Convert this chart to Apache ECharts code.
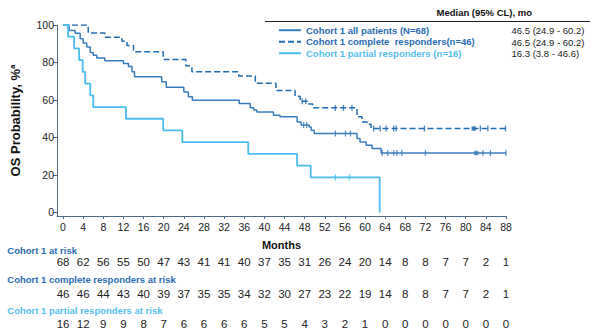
<!DOCTYPE html>
<html>
<head>
<meta charset="utf-8">
<script src="https://cdn.jsdelivr.net/npm/echarts@6/dist/echarts.min.js"></script>
<style>
  html, body { margin: 0; padding: 0; background: #fff; }
  #chart { width: 596px; height: 336px; }
</style>
</head>
<body>
<div id="chart"></div>
<script>
// Axis ticks
const monthTicks = [0, 4, 8, 12, 16, 20, 24, 28, 32, 36, 40, 44, 48, 52, 56, 60, 64, 68, 72, 76, 80, 84, 88];
const probTicks = [0, 20, 40, 60, 80, 100];
const followUpEnd = 88;

// Cohort 1 all patients (N=68): event times (months) and survival (%) after each step
const allTimes = [0, 1.2, 2.4, 3.4, 4.0, 4.7, 5.4, 6.0, 6.7, 8.3, 12.0, 13.0, 13.7, 14.2, 19.6, 20.5, 24.0, 24.9, 25.7, 35.0, 37.2, 37.9, 38.5, 41.8, 43.1, 46.5, 47.3, 48.9, 49.3, 49.9, 58.4, 59.0, 60.2, 61.4, 63.2];
const allSurv  = [100, 97.1, 95.6, 92.6, 90.4, 88.2, 85.3, 83.8, 82.4, 80.9, 79.4, 77.9, 75.0, 72.4, 69.7, 66.8, 64.3, 61.7, 59.9, 58.1, 55.9, 54.6, 53.6, 51.9, 51.0, 48.3, 46.6, 45.6, 43.9, 42.1, 39.4, 37.6, 35.8, 34.1, 31.7];
const allCensored = [47.8, 48.4, 54.1, 56.1, 57.1, 63.4, 64.5, 65.7, 66.3, 67.3, 72.0, 83.4, 84.9, 88.0];
const allCensoredBox = [82.1];

// Cohort 1 complete responders (n=46)
const cmpTimes = [0, 5.0, 8.3, 11.7, 12.7, 14.0, 19.9, 24.4, 25.6, 34.9, 38.2, 42.3, 46.1, 47.1, 48.8, 49.6, 58.4, 59.4, 60.4, 61.2];
const cmpSurv  = [100, 95.7, 93.5, 91.3, 89.1, 85.7, 81.6, 78.2, 75.0, 72.8, 68.9, 65.0, 62.0, 59.3, 57.8, 55.8, 51.0, 48.3, 47.1, 44.8];
const cmpCensored = [47.5, 48.2, 54.1, 55.7, 57.4, 61.7, 63.0, 64.2, 65.7, 66.2, 71.8, 82.9, 84.4, 87.9];
const cmpCensoredBox = [81.6];

// Cohort 1 partial responders (n=16)
const prtTimes = [0, 1.0, 2.2, 3.2, 3.9, 4.4, 5.4, 6.0, 12.5, 19.9, 23.7, 36.8, 46.5, 49.2, 62.9];
const prtSurv  = [100, 93.75, 87.5, 81.25, 75, 68.75, 62.5, 56.25, 50, 43.75, 37.5, 31.25, 25, 18.75, 0];
const prtCensored = [54.1, 56.9];

// Legend names and medians
const seriesNames = ['Cohort 1 all patients (N=68)', 'Cohort 1 complete  responders(n=46)', 'Cohort 1 partial responders (n=16)'];
const medians = ['46.5 (24.9 - 60.2)', '46.5 (24.9 - 60.2)', '16.3 (3.8 - 46.6)'];

// Numbers at risk at each month tick
const riskTitles = ['Cohort 1 at risk', 'Cohort 1 complete responders at risk', 'Cohort 1 partial responders at risk'];
const riskAll      = [68, 62, 56, 55, 50, 47, 43, 41, 41, 40, 37, 35, 31, 26, 24, 20, 14, 8, 8, 7, 7, 2, 1];
const riskComplete = [46, 46, 44, 43, 40, 39, 37, 35, 35, 34, 32, 30, 27, 23, 22, 19, 14, 8, 8, 7, 7, 2, 1];
const riskPartial  = [16, 12, 9, 9, 8, 7, 6, 6, 6, 6, 5, 5, 4, 3, 2, 1, 0, 0, 0, 0, 0, 0, 0];

const FONT = 'Liberation Sans';
const C_ALL = '#3a7dbd';
const C_CMP = '#1f6cb2';
const C_PRT = '#4bbdee';
const C_TXT_DARK = '#2a6cb0';
const C_TXT_LIGHT = '#55c0ee';
const AXIS_COLOR = '#4f6a85';

function stepPoints(times, surv, end) {
  const pts = times.map((t, i) => [t, surv[i]]);
  if (end != null) pts.push([end, surv[surv.length - 1]]);
  return pts;
}
function survAt(times, surv, t) {
  let v = surv[0];
  for (let i = 0; i < times.length; i++) if (times[i] <= t) v = surv[i];
  return v;
}
function censorPoints(times, surv, cens) {
  return cens.map(t => [t, survAt(times, surv, t)]);
}

const X_MIN = -1.2, X_MAX = 88;
const GRID_LEFT = 57, GRID_RIGHT = 90;

const riskRows = [riskAll, riskComplete, riskPartial];
const riskCenters = [262, 293.5, 324];

const grids = [{ left: GRID_LEFT, right: GRID_RIGHT, top: 25, height: 191 }];
const xAxes = [{
  type: 'value', gridIndex: 0, min: X_MIN, max: X_MAX,
  name: 'Months', nameLocation: 'middle', nameGap: 23,
  nameTextStyle: { fontFamily: FONT, fontSize: 11, fontWeight: 'bold', color: '#111' },
  axisLine: { show: true, onZero: false, lineStyle: { color: AXIS_COLOR, width: 1 } },
  axisTick: { show: true, length: 3, customValues: monthTicks, lineStyle: { color: AXIS_COLOR } },
  axisLabel: { customValues: monthTicks, color: '#222', fontSize: 10.5, fontFamily: FONT, margin: 5 },
  splitLine: { show: false }
}];
const yAxes = [{
  type: 'value', gridIndex: 0, min: -1.87, max: 100,
  name: '{m|OS Probability, %}{s|a}', nameLocation: 'middle', nameRotate: 90, nameGap: 35,
  nameTextStyle: {
    rich: {
      m: { fontFamily: FONT, fontSize: 13, fontWeight: 'bold', color: '#111' },
      s: { fontFamily: FONT, fontSize: 8, fontWeight: 'bold', color: '#111', verticalAlign: 'top', padding: [0, 0, 6, 0] }
    }
  },
  axisLine: { show: true, onZero: false, lineStyle: { color: AXIS_COLOR, width: 1 } },
  axisTick: { show: true, length: 4, customValues: probTicks, lineStyle: { color: AXIS_COLOR } },
  axisLabel: { customValues: probTicks, color: '#222', fontSize: 10.5, fontFamily: FONT, margin: 3 },
  splitLine: { show: false }
}];

riskRows.forEach((row, k) => {
  const gi = k + 1;
  grids.push({ left: GRID_LEFT, right: GRID_RIGHT, top: riskCenters[k] - 1, height: 1 });
  xAxes.push({
    type: 'value', gridIndex: gi, min: X_MIN, max: X_MAX,
    axisLine: { show: false }, axisTick: { show: false }, splitLine: { show: false },
    axisLabel: {
      customValues: monthTicks, margin: 0, verticalAlign: 'middle',
      color: '#222', fontSize: 11.5, fontFamily: FONT,
      formatter: v => { const i = monthTicks.indexOf(v); return i >= 0 ? String(row[i]) : ''; }
    }
  });
  yAxes.push({ type: 'value', gridIndex: gi, show: false, min: 0, max: 1 });
});

function curve(name, times, surv, end, color, width, type) {
  return {
    name, type: 'line', step: 'end', symbol: 'none', xAxisIndex: 0, yAxisIndex: 0,
    data: stepPoints(times, surv, end),
    lineStyle: { color, width, type }, itemStyle: { color }, z: 3
  };
}
function censors(name, times, surv, cens, color, size, symbol) {
  return {
    name, type: 'scatter', xAxisIndex: 0, yAxisIndex: 0,
    symbol: symbol || 'rect', symbolSize: size,
    data: censorPoints(times, surv, cens),
    itemStyle: { color }, z: 4, silent: true
  };
}

const series = [
  curve(seriesNames[0], allTimes, allSurv, followUpEnd, C_ALL, 1.5, 'solid'),
  curve(seriesNames[1], cmpTimes, cmpSurv, followUpEnd, C_CMP, 1.5, [6, 3]),
  curve(seriesNames[2], prtTimes, prtSurv, null, C_PRT, 1.8, 'solid'),
  censors('all-censored', allTimes, allSurv, allCensored, C_ALL, [1.3, 6]),
  censors('all-censored-box', allTimes, allSurv, allCensoredBox, C_ALL, [4.5, 4.5]),
  censors('cmp-censored', cmpTimes, cmpSurv, cmpCensored, C_CMP, [1.3, 6]),
  censors('cmp-censored-box', cmpTimes, cmpSurv, cmpCensoredBox, C_CMP, [4.5, 4.5]),
  censors('prt-censored', prtTimes, prtSurv, prtCensored, C_PRT, [1.3, 6])
];

const titleStyle = (color, bold) => ({
  fontFamily: FONT, fontSize: 9.5, fontWeight: bold ? 'bold' : 'normal', color, lineHeight: 12
});
const legendRowCenters = [30.7, 42.3, 53.3];
const titles = [
  { text: 'Median (95% CL), mo', left: 436.5, top: 6.3, padding: 0, textStyle: titleStyle('#111', true) }
];
medians.forEach((m, i) => titles.push({ text: m, left: 511.5, top: legendRowCenters[i] - 6, padding: 0, textStyle: titleStyle('#222', false) }));
const riskTitleCenters = [250, 279.3, 310];
riskTitles.forEach((t, i) => titles.push({
  text: t, left: 7.3, top: riskTitleCenters[i] - 6, padding: 0,
  textStyle: titleStyle(i === 2 ? C_TXT_LIGHT : C_TXT_DARK, true)
}));

const legendText = color => ({ color, fontFamily: FONT, fontSize: 9.5, fontWeight: 'bold', lineHeight: 11 });

const chart = echarts.init(document.getElementById('chart'), null, { renderer: 'svg' });
chart.setOption({
  animation: false,
  backgroundColor: '#fff',
  title: titles,
  legend: {
    orient: 'vertical', left: 278, top: 24.7, padding: 0,
    itemWidth: 22, itemHeight: 8, itemGap: 0.5, selectedMode: false,
    itemStyle: { opacity: 0 },
    textStyle: legendText('#222'),
    data: [
      { name: seriesNames[0], textStyle: legendText(C_TXT_DARK) },
      { name: seriesNames[1], textStyle: legendText(C_TXT_DARK) },
      { name: seriesNames[2], textStyle: legendText(C_TXT_LIGHT) }
    ]
  },
  graphic: [
    { type: 'line', silent: true, shape: { x1: 265, y1: 21.5, x2: 590, y2: 21.5 }, style: { stroke: '#222', lineWidth: 1 } }
  ],
  grid: grids,
  xAxis: xAxes,
  yAxis: yAxes,
  series
});
</script>
</body>
</html>
